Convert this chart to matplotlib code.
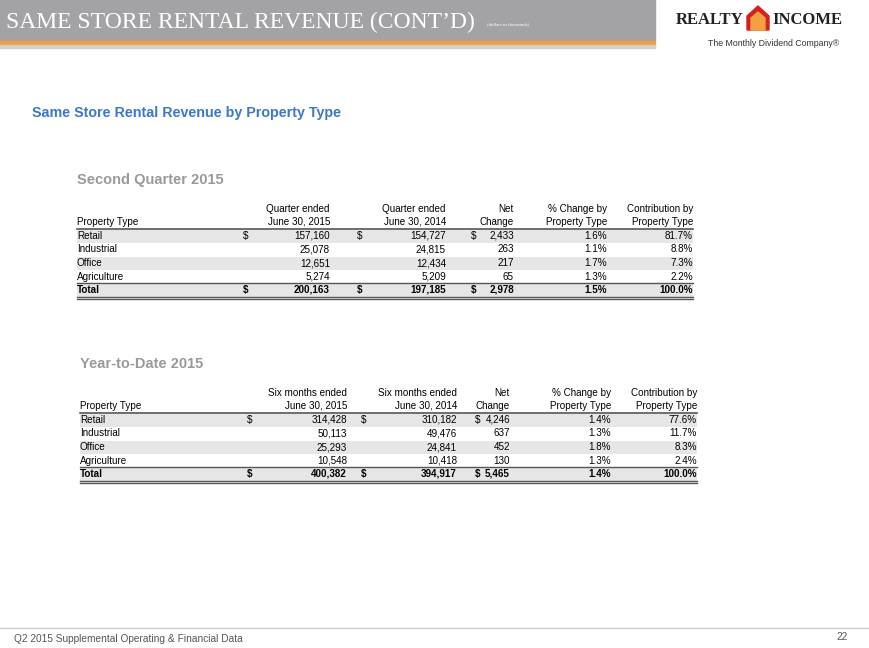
import matplotlib.pyplot as plt
from matplotlib.patches import Rectangle, Polygon

plt.rcParams['font.family'] = ['Liberation Sans', 'DejaVu Sans']

prop_types = ['Retail', 'Industrial', 'Office', 'Agriculture', 'Total']

q_2015 = ['157,160', '25,078', '12,651', '5,274', '200,163']
q_2014 = ['154,727', '24,815', '12,434', '5,209', '197,185']
q_net = ['2,433', '263', '217', '65', '2,978']
q_pct = ['1.6%', '1.1%', '1.7%', '1.3%', '1.5%']
q_contrib = ['81.7%', '8.8%', '7.3%', '2.2%', '100.0%']

y_2015 = ['314,428', '50,113', '25,293', '10,548', '400,382']
y_2014 = ['310,182', '49,476', '24,841', '10,418', '394,917']
y_net = ['4,246', '637', '452', '130', '5,465']
y_pct = ['1.4%', '1.3%', '1.8%', '1.3%', '1.4%']
y_contrib = ['77.6%', '11.7%', '8.3%', '2.4%', '100.0%']

fig = plt.figure(figsize=(8.7, 6.48), dpi=100)
ax = fig.add_axes([0, 0, 1, 1])
ax.set_xlim(0, 870)
ax.set_ylim(648, 0)
ax.axis('off')

FS = 7.1

# banner
ax.add_patch(Rectangle((0, 0), 655, 41, color='#a3a3a6'))
ax.add_patch(Rectangle((0, 41), 655, 4, color='#f0a040'))
ax.add_patch(Rectangle((0, 45), 655, 3, color='#d0d0d0'))
ax.text(6, 22, 'SAME STORE RENTAL REVENUE (CONT\u2019D)', fontsize=17, color='white',
        family='Liberation Serif', va='center')
ax.text(487, 24, '(dollars in thousands)', fontsize=3.5, color='white',
        family='Liberation Serif', va='center')
# logo
ax.text(744, 20, 'REALTY', fontsize=12, fontweight='bold', ha='right', va='center',
        family='Liberation Serif', color='#222222')
ax.add_patch(Polygon([(747, 30), (747, 16), (758, 6), (769, 16), (769, 30)],
                     color='#d42020'))
ax.add_patch(Polygon([(751, 30), (751, 18), (758, 12), (765, 18), (765, 30)],
                     color='#f4a040'))
ax.text(772, 20, 'INCOME', fontsize=12, fontweight='bold', ha='left', va='center',
        family='Liberation Serif', color='#222222')
ax.text(774, 43, 'The Monthly Dividend Company\u00ae', fontsize=6.3, ha='center',
        va='center', color='#333333')

ax.text(32, 113, 'Same Store Rental Revenue by Property Type', fontsize=10.3,
        fontweight='bold', color='#3c78c8', va='center')


def draw_table(x0, x1, y0, title, heads, cols, col_x, dollar_x):
    ax.text(x0, y0 - 29, title, fontsize=10.5, fontweight='bold', color='#9a9a9a',
            va='center')
    for i, h in enumerate(heads):
        l1, l2 = h
        ax.text(col_x[i], y0, l1, fontsize=FS, ha='right', va='center')
        ax.text(col_x[i], y0 + 13, l2, fontsize=FS, ha='right', va='center')
    ax.text(x0, y0 + 13, 'Property Type', fontsize=FS, va='center')
    ax.plot([x0, x1], [y0 + 20, y0 + 20], color='#555555', lw=1.2)
    for r, name in enumerate(prop_types):
        yy = y0 + 27 + r * 13.5
        if r % 2 == 0:
            ax.add_patch(Rectangle((x0, yy - 6.5), x1 - x0, 13, color='#e6e6e6', lw=0))
        bold = 'bold' if name == 'Total' else 'normal'
        ax.text(x0, yy, name, fontsize=FS, va='center', fontweight=bold)
        for c, vals in enumerate(cols):
            ax.text(col_x[c], yy, vals[r], fontsize=FS, ha='right', va='center',
                    fontweight=bold)
        if r in (0, 4):
            for dx in dollar_x:
                ax.text(dx, yy, '$', fontsize=FS, va='center', fontweight=bold)
    ty = y0 + 27 + 4 * 13.5
    ax.plot([x0, x1], [ty - 7, ty - 7], color='#555555', lw=1)
    ax.plot([x0, x1], [ty + 7, ty + 7], color='#555555', lw=1)
    ax.plot([x0, x1], [ty + 9, ty + 9], color='#555555', lw=1)


draw_table(77, 693, 209, 'Second Quarter 2015',
           [('Quarter ended', 'June 30, 2015'), ('Quarter ended', 'June 30, 2014'),
            ('Net', 'Change'), ('% Change by', 'Property Type'),
            ('Contribution by', 'Property Type')],
           [q_2015, q_2014, q_net, q_pct, q_contrib],
           [330, 446, 514, 607, 693], [243, 357, 471])

draw_table(80, 697, 393, 'Year-to-Date 2015',
           [('Six months ended', 'June 30, 2015'), ('Six months ended', 'June 30, 2014'),
            ('Net', 'Change'), ('% Change by', 'Property Type'),
            ('Contribution by', 'Property Type')],
           [y_2015, y_2014, y_net, y_pct, y_contrib],
           [347, 457, 510, 611, 697], [247, 361, 475])

ax.plot([0, 870], [628, 628], color='#cccccc', lw=1)
ax.text(14, 639, 'Q2 2015 Supplemental Operating & Financial Data', fontsize=7.3,
        color='#555555', va='center')
ax.text(848, 637, '22', fontsize=7.3, color='#555555', va='center', ha='right')

fig.savefig('out.png', dpi=100)
